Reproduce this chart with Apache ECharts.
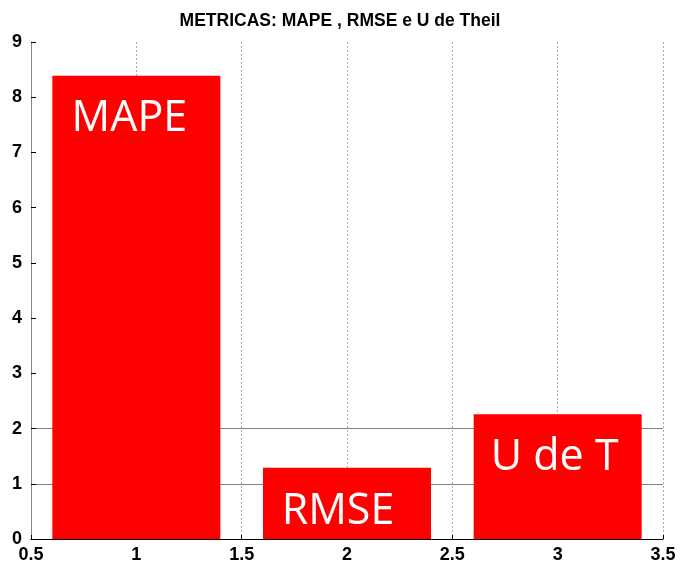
<!DOCTYPE html>
<html>
<head>
<meta charset="utf-8">
<script src="https://cdn.jsdelivr.net/npm/echarts@6/dist/echarts.min.js"></script>
<style>
  html, body { margin: 0; padding: 0; background: #fff; }
  #chart { width: 680px; height: 570px; }
</style>
</head>
<body>
<div id="chart"></div>
<script>
// posições das barras e valores das métricas
var barPos = [1, 2, 3];
var barValues = [8.39, 1.29, 2.26];
var barNames = ['MAPE', 'RMSE', 'U de T'];
var labelShift = [-7, -9, -3];

// linhas horizontais visíveis só em 1 e 2
var yGridColors = ['rgba(0,0,0,0)', '#808080', '#808080', 'rgba(0,0,0,0)', 'rgba(0,0,0,0)',
    'rgba(0,0,0,0)', 'rgba(0,0,0,0)', 'rgba(0,0,0,0)', 'rgba(0,0,0,0)', 'rgba(0,0,0,0)'];

function metricasChart() {
    var myChart = echarts.init(document.getElementById('chart'));

    var seriesData = barPos.map(function (x, i) {
        return {
            value: [x, barValues[i]],
            label: { formatter: barNames[i], offset: [labelShift[i], 0] }
        };
    });

    var option = {
        animation: false,
        title: {
            text: 'METRICAS: MAPE , RMSE e U de Theil',
            left: 'center',
            top: 7,
            textStyle: { fontFamily: 'Liberation Sans', fontSize: 17.5, fontWeight: 'bold', color: '#000' }
        },
        grid: { left: 31, right: 17, top: 42, bottom: 31 },
        xAxis: {
            type: 'value',
            min: 0.5,
            max: 3.5,
            interval: 0.5,
            axisLine: { lineStyle: { color: '#000', width: 1 } },
            axisTick: { inside: true, length: 4, lineStyle: { color: '#000' } },
            axisLabel: {
                fontFamily: 'Liberation Sans', fontSize: 18, fontWeight: 'bold', color: '#000', margin: 7,
                showMinLabel: true, showMaxLabel: true
            },
            splitLine: { show: true, lineStyle: { color: '#aaa', type: [2, 2], width: 1 } }
        },
        yAxis: {
            type: 'value',
            min: 0,
            max: 9,
            interval: 1,
            axisLine: { show: true, lineStyle: { color: '#888', width: 1 } },
            axisTick: { show: true, inside: true, length: 5, lineStyle: { color: '#000' } },
            axisLabel: { fontFamily: 'Liberation Sans', fontSize: 18, fontWeight: 'bold', color: '#000', margin: 9 },
            splitLine: { show: true, lineStyle: { color: yGridColors, width: 1 } }
        },
        series: [{
            type: 'bar',
            data: seriesData,
            barWidth: 168,
            itemStyle: { color: '#ff0000' },
            label: {
                show: true,
                position: 'insideTop',
                distance: 22,
                color: '#fff',
                fontFamily: 'Open Sans',
                fontSize: 43
            }
        }]
    };

    myChart.setOption(option);
}

metricasChart();
</script>
</body>
</html>
